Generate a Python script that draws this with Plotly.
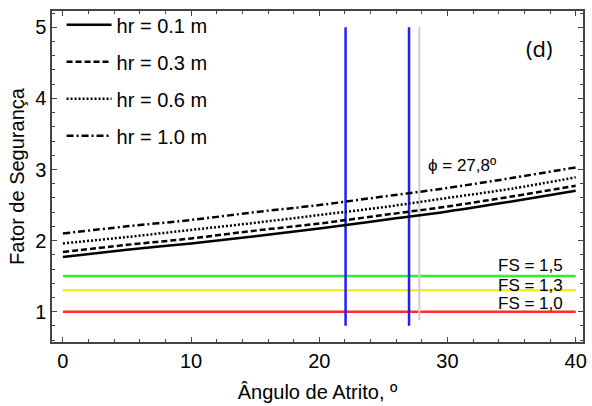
import plotly.graph_objects as go

# Friction angle (degrees) and safety factor for each soil-root depth hr
angulo = [0, 5, 10, 15, 20, 25, 30, 35, 40]
fs_hr01 = [1.77, 1.87, 1.96, 2.06, 2.17, 2.29, 2.41, 2.55, 2.70]
fs_hr03 = [1.84, 1.94, 2.03, 2.14, 2.24, 2.36, 2.48, 2.62, 2.77]
fs_hr06 = [1.96, 2.05, 2.15, 2.25, 2.36, 2.47, 2.60, 2.73, 2.89]
fs_hr10 = [2.10, 2.20, 2.29, 2.40, 2.50, 2.62, 2.74, 2.88, 3.03]

# Reference safety-factor thresholds
fs_limites = [1.5, 1.3, 1.0]
fs_cores = ["#2ef02e", "#f2f20a", "#ff2a2a"]
fs_rotulos = ["FS = 1,5", "FS = 1,3", "FS = 1,0"]
limite_x = [0, 40]

# Vertical markers: two blue friction angles and the measured angle (gray)
marcos_azuis = [22.05, 27.0]
marco_azul_y = [0.8, 5.0]
phi_medido = 27.8
phi_medido_y = [0.88, 5.0]

series = [
    ("hr = 0.1 m", fs_hr01, "solid"),
    ("hr = 0.3 m", fs_hr03, "6px,3px"),
    ("hr = 0.6 m", fs_hr06, "2px,2px"),
    ("hr = 1.0 m", fs_hr10, "7px,3px,2px,3px"),
]

fig = go.Figure()

for yv, cor in zip(fs_limites, fs_cores):
    fig.add_trace(go.Scatter(x=limite_x, y=[yv, yv], mode="lines",
                             line=dict(color=cor, width=2.5),
                             showlegend=False, hoverinfo="skip"))

for xv in marcos_azuis:
    fig.add_trace(go.Scatter(x=[xv, xv], y=marco_azul_y, mode="lines",
                             line=dict(color="#2020f0", width=2.5),
                             showlegend=False, hoverinfo="skip"))

fig.add_trace(go.Scatter(x=[phi_medido, phi_medido], y=phi_medido_y, mode="lines",
                         line=dict(color="#d0d0d0", width=2),
                         showlegend=False, hoverinfo="skip"))

for i, (nome, valores, traco) in enumerate(series):
    fig.add_trace(go.Scatter(x=angulo, y=valores, mode="lines", name=nome,
                             line=dict(color="black", width=2.5, dash=traco,
                                       shape="spline"),
                             legendgroup=f"g{i}"))

for yv, txt, dy in zip(fs_limites, fs_rotulos, [0.15, 0.075, 0.11]):
    fig.add_annotation(x=39.15, y=yv + dy, text=txt, showarrow=False,
                       xanchor="right", yanchor="middle",
                       font=dict(family="Liberation Sans", size=17, color="black"))

fig.add_annotation(x=28.3, y=3.05, text=f"ϕ = {str(phi_medido).replace('.', ',')}º",
                   showarrow=False, xanchor="left", yanchor="middle",
                   font=dict(family="Liberation Sans", size=17, color="black"))

fig.add_annotation(xref="paper", yref="paper", x=0.917, y=0.888, text="(d)",
                   showarrow=False, xanchor="center", yanchor="middle",
                   font=dict(family="Open Sans", size=22, color="black"))

eixo = dict(showline=True, linecolor="#444444", linewidth=1.5, mirror="ticks",
            ticks="inside", ticklen=5, tickwidth=1.2, tickcolor="#444444",
            showgrid=False, zeroline=False,
            tickfont=dict(family="Liberation Sans", size=20, color="black"))

fig.update_xaxes(**eixo, range=[-0.85, 40.57], tickvals=[0, 10, 20, 30, 40],
                 minor=dict(dtick=2, ticks="inside", ticklen=3, tickcolor="#444444"),
                 title=dict(text="Ângulo de Atrito, º", standoff=14,
                            font=dict(family="Liberation Sans", size=20, color="black")))
fig.update_yaxes(**eixo, range=[0.573, 5.23], tickvals=[1, 2, 3, 4, 5],
                 minor=dict(dtick=0.2, tick0=0, ticks="inside", ticklen=3,
                            tickcolor="#444444"),
                 title=dict(text="Fator de Segurança", standoff=5,
                            font=dict(family="Liberation Sans", size=20, color="black")))

fig.update_layout(
    width=592, height=406,
    margin=dict(l=52, r=5, t=10, b=64),
    plot_bgcolor="white", paper_bgcolor="white",
    legend=dict(x=0.018, y=1.017, xanchor="left", yanchor="top",
                bgcolor="rgba(0,0,0,0)", itemwidth=45, tracegroupgap=8,
                font=dict(family="Liberation Sans", size=20, color="black")),
)

fig.write_html("out.html")
